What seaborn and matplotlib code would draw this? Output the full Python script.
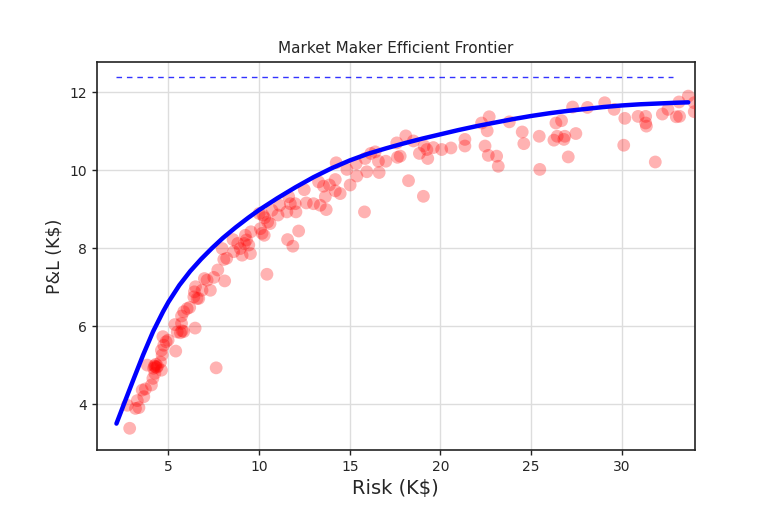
import numpy as np
import pandas as pd
import matplotlib
matplotlib.use("Agg")
import matplotlib.pyplot as plt
import seaborn as sns

# simulated portfolios: risk (K$) and P&L (K$)
risk = [2.86, 2.73, 3.18, 3.37, 3.28, 3.64, 3.55, 3.73, 4.06, 4.14, 4.25, 3.83,
        4.28, 4.22, 4.35, 4.30, 4.18, 4.40, 4.61, 4.56, 4.65, 4.61, 4.74, 4.87,
        4.69, 4.98, 5.40, 7.63, 5.35, 5.48, 5.75, 5.66, 5.84, 5.72, 6.47, 5.72,
        5.84, 6.03, 6.17, 6.40, 6.67, 6.58,
        6.49, 6.43, 6.85, 6.98, 7.13, 7.31, 7.50, 7.72, 8.10, 8.05, 8.21, 7.96,
        8.56, 8.60, 8.82, 8.96, 9.06, 9.19, 9.30, 9.24, 9.43, 9.52, 9.55, 10.07,
        10.16, 10.28, 10.43, 10.21, 10.47, 10.60, 10.71, 11.04, 11.13, 11.57, 11.86,
        12.18, 11.53, 11.72, 11.99, 12.03, 11.63, 12.60, 12.49, 13.00, 13.37, 13.70,
        13.65, 10.00, 10.30,
        13.28, 13.55, 13.88, 14.20, 14.20, 14.47, 14.25, 15.02, 14.84, 15.35, 15.39,
        15.85, 15.94, 15.81, 16.16, 16.40, 16.58, 16.62, 16.99, 17.59, 17.63, 17.78,
        18.09, 18.51, 18.24, 18.84, 19.10, 19.25, 19.30, 19.06, 19.61, 20.07, 20.58,
        21.35, 21.35, 22.27, 22.69, 22.58, 22.46, 22.64, 23.10, 23.19, 23.80, 24.51,
        24.60, 25.48, 25.45, 26.37, 26.68, 26.26, 26.44, 26.86, 26.81, 27.05, 27.47,
        27.29, 28.11, 29.06, 29.58, 30.17, 30.11, 30.90, 31.32, 31.32, 31.36, 31.85,
        32.24, 32.55, 33.01, 33.19, 33.16, 33.67, 34.00, 34.00]
pnl = [3.38, 3.97, 3.89, 3.91, 4.09, 4.19, 4.36, 4.39, 4.49, 4.66, 4.79, 5.00,
       4.96, 4.98, 4.94, 5.02, 4.92, 4.97, 4.87, 5.08, 5.26, 5.38, 5.51, 5.60,
       5.73, 5.64, 5.36, 4.93, 6.04, 5.85, 5.88, 5.83, 5.86, 6.07, 5.95, 6.26,
       6.37, 6.45, 6.48, 6.75, 6.71, 6.71,
       7.01, 6.88, 6.92, 7.22, 7.18, 6.92, 7.25, 7.44, 7.16, 7.71, 7.74, 7.99,
       8.22, 7.91, 8.12, 7.99, 7.82, 8.12, 8.21, 8.33, 8.08, 7.86, 8.42, 8.50,
       8.38, 8.33, 7.33, 8.85, 8.67, 8.63, 8.97, 8.85, 9.10, 8.22, 8.05,
       8.44, 8.93, 9.14, 9.14, 8.93, 9.32, 9.16, 9.50, 9.14, 9.10, 8.99,
       9.32, 8.89, 8.78,
       9.70, 9.59, 9.62, 9.76, 9.47, 9.40, 10.19, 9.62, 10.02, 10.17, 9.85,
       10.30, 9.96, 8.93, 10.43, 10.47, 10.23, 9.94, 10.23, 10.70, 10.33, 10.36,
       10.88, 10.75, 9.73, 10.43, 10.62, 10.53, 10.30, 9.33, 10.58, 10.53, 10.57,
       10.79, 10.62, 11.21, 11.37, 11.01, 10.62, 10.38, 10.36, 10.10, 11.24, 10.98,
       10.68, 10.02, 10.87, 11.21, 11.27, 10.77, 10.87, 10.87, 10.79, 10.34, 10.94,
       11.62, 11.61, 11.73, 11.56, 11.33, 10.64, 11.38, 11.38, 11.21, 11.13, 10.21,
       11.44, 11.56, 11.37, 11.38, 11.75, 11.90, 11.73, 11.50]

# efficient frontier
frontier_risk = [2.13, 2.60, 3.10, 3.60, 4.15, 4.70, 5.00, 5.60, 6.20, 6.80, 7.40,
                 8.00, 8.70, 9.40, 10.0, 11.0, 12.0, 13.0, 14.0, 15.0, 16.0, 17.0,
                 18.0, 19.0, 20.0, 21.0, 22.0, 23.0, 24.0, 25.0, 26.0, 27.0, 28.0,
                 29.0, 30.0, 31.0, 32.0, 33.0, 33.67]
frontier_pnl = [3.50, 4.07, 4.67, 5.26, 5.86, 6.37, 6.62, 7.05, 7.41, 7.72, 8.00,
                8.26, 8.53, 8.78, 8.98, 9.28, 9.56, 9.82, 10.05, 10.25, 10.42, 10.56,
                10.69, 10.81, 10.92, 11.03, 11.13, 11.22, 11.31, 11.39, 11.46, 11.52, 11.57,
                11.62, 11.66, 11.69, 11.71, 11.73, 11.74]

# upper bound
cap_risk = [2.1, 32.83]
cap_pnl = [12.38, 12.38]

pts = pd.DataFrame({"risk": risk, "pnl": pnl})
front = pd.DataFrame({"risk": frontier_risk, "pnl": frontier_pnl})

sns.set_style("whitegrid")
plt.rcParams["font.family"] = ["DejaVu Sans"]

fig, ax = plt.subplots(figsize=(7.72, 5.15), dpi=100)
fig.subplots_adjust(left=0.125, right=0.9, top=0.88, bottom=0.126)

sns.scatterplot(data=pts, x="risk", y="pnl", color="red", alpha=0.3, s=85,
                edgecolor="none", ax=ax, zorder=3)
sns.lineplot(data=front, x="risk", y="pnl", color="blue", lw=3.2, sort=False,
             ax=ax, zorder=4, solid_joinstyle="round")
ax.plot(cap_risk, cap_pnl, color="blue", lw=1, ls=(0, (4, 3.5)), alpha=0.8)

ax.set_xlim(1.03, 34.03)
ax.set_ylim(2.82, 12.78)
ax.set_yticks([4, 6, 8, 10, 12])
ax.set_xticks([5, 10, 15, 20, 25, 30])

for s in ax.spines.values():
    s.set_color("#222222")
    s.set_linewidth(1.2)
ax.grid(color="#dddddd", lw=1)
ax.tick_params(axis="both", which="both", direction="out", length=3.5,
               width=1, color="#222222", labelsize=10, left=True, bottom=True)

ax.set_title("Market Maker Efficient Frontier", fontsize=11)
ax.set_xlabel("Risk (K$)", fontsize=14)
ax.set_ylabel("P&L (K$)", fontsize=12.5)

fig.savefig("out.png", dpi=100)
